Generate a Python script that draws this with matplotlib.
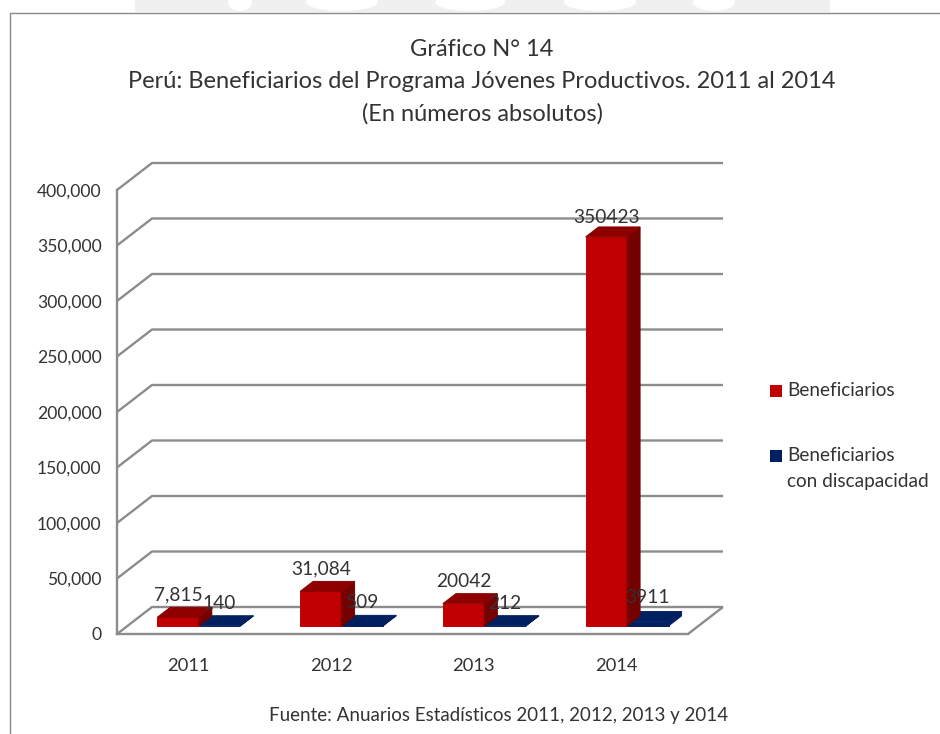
import matplotlib
matplotlib.use("Agg")
import matplotlib.pyplot as plt
from matplotlib.patches import Polygon, Rectangle, Ellipse

plt.rcParams['font.family'] = ['Lato', 'DejaVu Sans']

years = ['2011', '2012', '2013', '2014']
beneficiarios = [7815, 31084, 20042, 350423]
discapacidad = [140, 509, 212, 3911]
labels_ben = ['7,815', '31,084', '20042', '350423']
labels_dis = ['140', '509', '212', '3911']
y_ticks = [0, 50000, 100000, 150000, 200000, 250000, 300000, 350000, 400000]
y_tick_labels = ['0', '50,000', '100,000', '150,000', '200,000', '250,000', '300,000', '350,000', '400,000']
title_lines = ['Gráfico N° 14', 'Perú: Beneficiarios del Programa Jóvenes Productivos. 2011 al 2014', '(En números absolutos)']
source = 'Fuente: Anuarios Estadísticos 2011, 2012, 2013 y 2014'

W, H = 940, 734
TXT = '#333333'
GRID = '#8c8c8c'
fig = plt.figure(figsize=(W / 100, H / 100), dpi=100, facecolor='white')

def fx(px): return px / W
def fy(py): return 1 - py / H

# faint page watermark above the frame
fig.add_artist(Rectangle((fx(135), fy(12)), (830 - 135) / W, 12 / H, transform=fig.transFigure,
                         facecolor='#f0f0f0', edgecolor='none', zorder=-5))
for cx, wd in ((240, 24), (342, 72), (470, 70), (600, 72), (714, 42)):
    fig.add_artist(Ellipse((fx(cx), fy(2)), wd / W, 18 / H, transform=fig.transFigure,
                           facecolor='white', edgecolor='none', zorder=-4))

ax = fig.add_axes([fx(117), fy(634), (688 - 117) / W, (634 - 190) / H])
ax.set_xlim(0, 4)
ax.set_ylim(0, 400000)
ax.patch.set_visible(False)

# oblique depth: one unit of depth moves this far in data units
DX = 4 * 35 / 571
DY = 400000 * 27 / 444

def proj(x, y, z):
    return (x + z * DX, y + z * DY)

def poly(pts, color, z):
    ax.add_patch(Polygon(pts, closed=True, facecolor=color, edgecolor=color, lw=0.7, zorder=z, clip_on=False))

# walls
line = dict(color=GRID, lw=1.7, clip_on=False, zorder=1, solid_capstyle='butt')
for v in y_ticks:
    a = proj(0, v, 0); b = proj(0, v, 1); c = proj(4, v, 1)
    ax.plot([a[0], b[0], c[0]], [a[1], b[1], c[1]], **line)
ax.plot([4, proj(4, 0, 1)[0]], [0, proj(4, 0, 1)[1]], **line)

# bars
BW = 4 * 41.5 / 571
Z0, Z1 = 0.30, 0.67
ben_offset_pt = [9, 9, 9, 7]
dis_offset_pt = [9, 9, 9, 10]

def bar3d(x0, v, front, top, side, z):
    x1 = x0 + BW
    poly([proj(x0, 0, Z0), proj(x1, 0, Z0), proj(x1, v, Z0), proj(x0, v, Z0)], front, z)
    poly([proj(x1, 0, Z0), proj(x1, 0, Z1), proj(x1, v, Z1), proj(x1, v, Z0)], side, z)
    poly([proj(x0, v, Z0), proj(x1, v, Z0), proj(x1, v, Z1), proj(x0, v, Z1)], top, z)

for i, (b, d) in enumerate(zip(beneficiarios, discapacidad)):
    c = i + 0.5
    bar3d(c, d, '#002060', '#002060', '#002060', 3)
    bar3d(c - BW, b, '#C00000', '#8E0000', '#740000', 4)
    for x, v, s, off in ((c - BW, b, labels_ben[i], ben_offset_pt[i]), (c, d, labels_dis[i], dis_offset_pt[i])):
        p = proj(x + BW / 2, v, Z1)
        px = proj(x + BW / 2, v, Z0)[0]
        ax.annotate(s, (px, p[1]), xytext=(0, off), textcoords='offset points',
                    ha='center', va='center', fontsize=13.8, color=TXT, zorder=6, annotation_clip=False)

# axes
for s in ('top', 'right'):
    ax.spines[s].set_visible(False)
for s in ('left', 'bottom'):
    ax.spines[s].set_color(GRID)
    ax.spines[s].set_linewidth(1.7)
ax.set_yticks(y_ticks, y_tick_labels)
ax.set_xticks([i + 0.5 for i in range(4)], years)
ax.tick_params(axis='y', length=0, pad=11, labelsize=12.6, labelcolor=TXT)
ax.tick_params(axis='x', length=0, pad=17, labelsize=13.2, labelcolor=TXT)

# titles
for s, py in zip(title_lines, (50, 82, 114)):
    fig.text(fx(482), fy(py), s, ha='center', va='center', fontsize=17, color=TXT)
fig.text(fx(499), fy(715), source, ha='center', va='center', fontsize=13.5, color=TXT)

# legend
fig.add_artist(Rectangle((fx(770), fy(397)), 12 / W, 12 / H, transform=fig.transFigure, facecolor='#C00000', edgecolor='none'))
fig.add_artist(Rectangle((fx(770), fy(462)), 12 / W, 12 / H, transform=fig.transFigure, facecolor='#002060', edgecolor='none'))
fig.text(fx(787), fy(391), 'Beneficiarios', ha='left', va='center', fontsize=13.7, color=TXT)
fig.text(fx(787), fy(456), 'Beneficiarios', ha='left', va='center', fontsize=13.7, color=TXT)
fig.text(fx(787), fy(481), 'con discapacidad', ha='left', va='center', fontsize=13.7, color=TXT)

# outer frame
fig.add_artist(plt.Line2D([fx(9.5), fx(9.5), 1], [0, fy(12.5), fy(12.5)], color='#8a8a8a', lw=1, transform=fig.transFigure))

fig.savefig('out.png', dpi=100, facecolor='white')
